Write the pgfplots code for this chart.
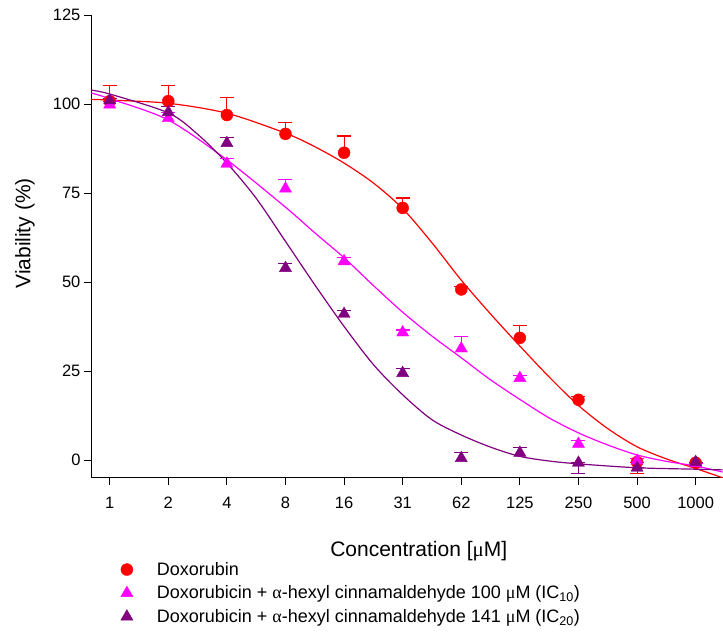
\documentclass[border=0pt]{standalone}
\usepackage{fontspec}
\setmainfont{Liberation Sans}
\newfontfamily\symf{Liberation Serif}
\usepackage{pgfplots}
\pgfplotsset{compat=1.18}
\definecolor{cRed}{RGB}{255,0,0}
\definecolor{cMag}{RGB}{255,0,255}
\definecolor{cPur}{RGB}{128,0,128}

% x = index of concentration (1,2,4,...,1000 -> 0..10)
\pgfplotstableread{
x y e
0 100.8 4.5
1 100.8 4.5
2 96.9 4.8
3 91.6 3.1
4 86.3 4.7
5 70.8 2.8
6 47.9 0.8
7 34.3 3.4
8 16.9 0.8
9 -0.6 0
10 -0.8 0
}\doxo
\pgfplotstableread{
x y e
0 99.8 0.8
1 96.0 1.5
2 83.2 1.5
3 76.2 2.7
4 55.8 1.0
5 35.8 0.7
6 31.3 3.3
7 23.0 0.6
8 4.5 0.9
9 -0.2 0.5
10 -1.0 0
}\icten
\pgfplotstableread{
x y e
0 101.0 0.5
1 97.7 1.5
2 89.0 1.7
3 53.9 1.4
4 41.0 0.9
5 24.4 1.4
6 0.5 1.7
7 2.0 1.6
8 -0.8 0
9 -2.2 0
10 -0.6 0
}\ictwenty
\pgfplotstableread{
x y
-0.32 101.3
0 101.1
1 100.2
2 97.4
3 91.8
3.5 88.0
4 83.4
4.5 77.8
5 70.6
5.5 61.0
6 50.5
6.5 41.0
7 32.0
7.5 23.3
8 15.3
8.5 8.8
9 3.7
9.5 0.3
10 -2.4
10.46 -5.0
}\fitdoxo
\pgfplotstableread{
x y
-0.32 103.1
0 101.5
1 95.5
2 84.3
3 71.0
3.5 63.8
4 56.8
4.5 49.0
5 41.5
5.5 34.8
6 28.7
6.5 22.5
7 17.0
7.5 11.8
8 7.6
8.5 4.2
9 1.4
9.5 -0.4
10 -1.7
10.46 -3.4
}\fiticten
\pgfplotstableread{
x y
-0.32 103.9
0 102.8
1 97.5
1.5 91.5
2 83.4
2.5 73.5
3 61.4
3.5 49.2
4 37.5
4.5 26.8
5 18.3
5.5 11.3
6 7.0
6.5 3.6
7 1.0
7.5 -0.3
8 -1.1
9 -2.2
10 -2.6
10.46 -2.8
}\fitictwenty

\begin{document}
\begin{tikzpicture}
\begin{axis}[
  at={(0pt,0pt)}, anchor=south west,
  scale only axis, width=632pt, height=463pt,
  xmin=-0.32, xmax=10.46, ymin=-5, ymax=125,
  axis x line*=bottom, axis y line*=left,
  axis line style={black, line width=0.8pt, -},
  xtick={0,...,10},
  xticklabels={1,2,4,8,16,31,62,125,250,500,1000},
  ytick={0,25,50,75,100,125},
  tick align=outside, major tick length=7pt,
  tick style={black, line width=0.8pt},
  /pgf/number format/assume math mode=true,
  tick label style={font=\fontsize{16.5}{19}\selectfont},
  xticklabel style={yshift=-9pt},
  xlabel={Concentration [{\symf μ}M]},
  ylabel={Viability (\%)},
  every axis x label/.style={at={(rel axis cs:0.519,-0.1706)}, anchor=base, font=\fontsize{21}{24}\selectfont},
  every axis y label/.style={at={(rel axis cs:-0.1044,0.528)}, anchor=center, rotate=90, font=\fontsize{21}{24}\selectfont},
  legend cell align=left,
  legend style={at={(0.047,-0.178)}, anchor=north west, draw=none, fill=none,
    font=\fontsize{18}{21}\selectfont, row sep=5pt, column sep=22pt, inner sep=0pt},
  error bars/error mark options={rotate=90, mark size=7pt, line width=1.1pt},
]
\addplot[cRed, line width=1.2pt, smooth, no markers, forget plot] table[x=x,y=y] {\fitdoxo};
\addplot[cMag, line width=1.2pt, smooth, no markers, forget plot] table[x=x,y=y] {\fiticten};
\addplot[cPur, line width=1.2pt, smooth, no markers, forget plot] table[x=x,y=y] {\fitictwenty};

\addplot[cRed, only marks, mark=*, mark size=6pt,
  error bars/.cd, y dir=plus, y explicit, error mark=-,
  error bar style={line width=1.1pt, cRed}]
  table[x=x,y=y,y error=e] {\doxo};
\addlegendentry{Doxorubin}
\addplot[cRed, forget plot, draw=none, no markers,
  error bars/.cd, y dir=minus, y explicit, error mark=-,
  error bar style={line width=1.1pt, cRed}]
  coordinates {(9,-0.6) -= (0,3.3)};

\addplot[cMag, only marks, mark=triangle*, mark size=7pt,
  error bars/.cd, y dir=plus, y explicit, error mark=-,
  error bar style={line width=1.1pt, cMag}]
  table[x=x,y=y,y error=e] {\icten};
\addlegendentry{Doxorubicin + {\symf α}-hexyl cinnamaldehyde 100 {\symf μ}M (IC\textsubscript{10})}

\addplot[cPur, only marks, mark=triangle*, mark size=7pt,
  error bars/.cd, y dir=plus, y explicit, error mark=-,
  error bar style={line width=1.1pt, cPur}]
  table[x=x,y=y,y error=e] {\ictwenty};
\addlegendentry{Doxorubicin + {\symf α}-hexyl cinnamaldehyde 141 {\symf μ}M (IC\textsubscript{20})}
\addplot[cPur, forget plot, draw=none, no markers,
  error bars/.cd, y dir=minus, y explicit, error mark=-,
  error bar style={line width=1.1pt, cPur}]
  coordinates {(8,-0.8) -= (0,3.1)};
\end{axis}
\path (-91pt,-157pt) rectangle (632pt,478pt);
\end{tikzpicture}
\end{document}
